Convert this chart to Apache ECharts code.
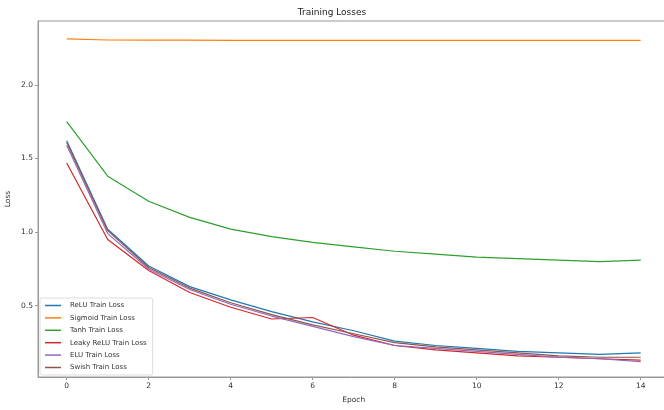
<!DOCTYPE html>
<html><head><meta charset="utf-8">
<script src="https://cdn.jsdelivr.net/npm/echarts@6/dist/echarts.min.js"></script>
<style>html,body{margin:0;padding:0;background:#fff}#c{width:664px;height:410px}</style>
</head><body><div id="c"></div>
<script>
const epochs = [0,1,2,3,4,5,6,7,8,9,10,11,12,13,14];
const reluLoss    = [1.62,1.02,0.77,0.63,0.54,0.46,0.39,0.33,0.26,0.23,0.21,0.19,0.18,0.17,0.18];
const sigmoidLoss = [2.312,2.305,2.304,2.304,2.303,2.303,2.303,2.303,2.303,2.303,2.303,2.303,2.303,2.303,2.302];
const tanhLoss    = [1.75,1.38,1.21,1.10,1.02,0.97,0.93,0.90,0.87,0.85,0.83,0.82,0.81,0.80,0.81];
const leakyLoss   = [1.47,0.95,0.74,0.59,0.49,0.41,0.42,0.30,0.23,0.20,0.18,0.16,0.15,0.14,0.13];
const eluLoss     = [1.59,0.99,0.75,0.61,0.51,0.43,0.36,0.29,0.23,0.21,0.19,0.17,0.15,0.14,0.12];
const swishLoss   = [1.61,1.01,0.76,0.62,0.52,0.44,0.37,0.31,0.25,0.22,0.20,0.18,0.16,0.15,0.15];
const seriesNames = ['ReLU Train Loss','Sigmoid Train Loss','Tanh Train Loss','Leaky ReLU Train Loss','ELU Train Loss','Swish Train Loss'];
const seriesColors = ['#1f77b4','#ff7f0e','#2ca02c','#d62728','#9467bd','#8c564b'];
const xTicks = [0,2,4,6,8,10,12,14];
const yTicks = [0.5,1.0,1.5,2.0];

const all = [reluLoss,sigmoidLoss,tanhLoss,leakyLoss,eluLoss,swishLoss];
const font = 'DejaVu Sans';
const chart = echarts.init(document.getElementById('c'));
chart.setOption({
  animation:false,
  backgroundColor:'#fff',
  title:{text:'Training Losses',left:'center',top:3,textStyle:{fontFamily:font,fontSize:9,fontWeight:'normal',color:'#222'}},
  grid:{left:38,right:-5.4,top:21,bottom:33,show:true,borderColor:'#999',borderWidth:1,containLabel:false,outerBoundsMode:'none'},
  legend:{
    orient:'vertical',left:40,top:298,
    data:seriesNames,
    icon:'rect',itemWidth:16,itemHeight:1.5,itemGap:5.4,
    padding:[4,6,4,5],
    backgroundColor:'rgba(255,255,255,0.8)',borderColor:'#ddd',borderWidth:1,borderRadius:2,
    textStyle:{fontFamily:font,fontSize:7,color:'#333',padding:[0,0,0,4]}
  },
  xAxis:{type:'value',min:-0.7,max:14.7,name:'Epoch',nameLocation:'middle',nameGap:19,nameMoveOverlap:false,
    nameTextStyle:{fontFamily:font,fontSize:7.5,color:'#333'},
    axisLine:{show:true,onZero:false,lineStyle:{color:'#999'}},
    axisTick:{show:true,length:3,lineStyle:{color:'#999'},customValues:xTicks},
    axisLabel:{fontFamily:font,fontSize:7.5,color:'#333',margin:5,customValues:xTicks},
    splitLine:{show:false}},
  yAxis:{type:'value',min:0.016,max:2.434,name:'Loss',nameLocation:'middle',nameGap:26,nameMoveOverlap:false,
    nameTextStyle:{fontFamily:font,fontSize:7.5,color:'#333'},
    axisLine:{show:true,onZero:false,lineStyle:{color:'#999'}},
    axisTick:{show:true,length:3,lineStyle:{color:'#999'},customValues:yTicks},
    axisLabel:{fontFamily:font,fontSize:7.5,color:'#333',margin:5,customValues:yTicks,formatter:v=>v.toFixed(1)},
    splitLine:{show:false}},
  series: all.map((arr,i)=>({
    name:seriesNames[i],type:'line',showSymbol:false,symbol:'none',
    data:epochs.map((e,j)=>[e,arr[j]]),
    lineStyle:{width:1.2,color:seriesColors[i]},itemStyle:{color:seriesColors[i]}
  }))
});
</script></body></html>
